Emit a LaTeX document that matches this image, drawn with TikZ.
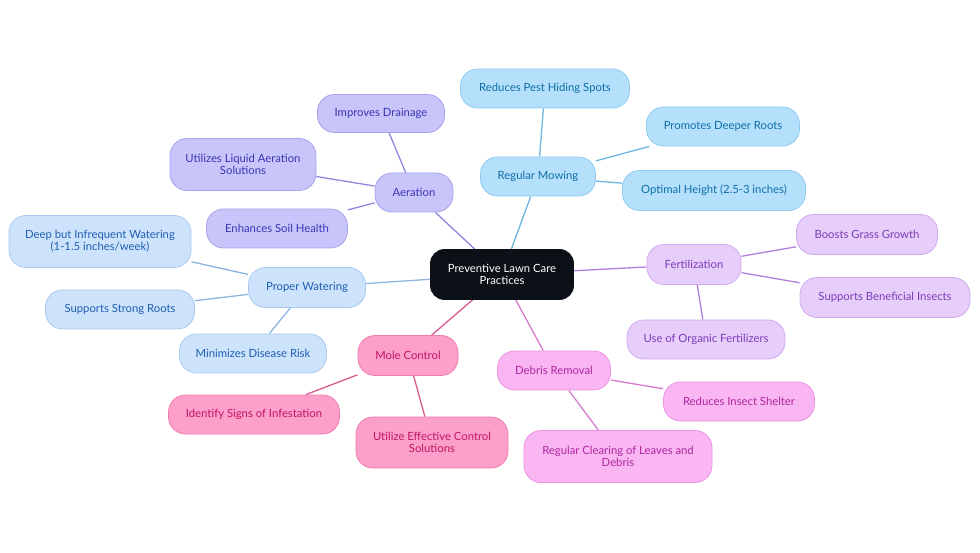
\documentclass[tikz,border=0pt]{standalone}
\usepackage{fontspec}
\setmainfont{Lato}
\usetikzlibrary{backgrounds}
\definecolor{cfill}{HTML}{0C1017}
\definecolor{aefill}{HTML}{C7C5F9}\definecolor{aedraw}{HTML}{A8A3EC}\definecolor{aetext}{HTML}{3C35B4}\definecolor{aeline}{HTML}{8E86DC}
\definecolor{mofill}{HTML}{B5E0FB}\definecolor{modraw}{HTML}{8ECBF1}\definecolor{motext}{HTML}{0E6FA6}\definecolor{moline}{HTML}{6DB6E1}
\definecolor{wafill}{HTML}{CDE3FB}\definecolor{wadraw}{HTML}{A9CBF0}\definecolor{watext}{HTML}{1E5EB3}\definecolor{waline}{HTML}{8DB4E0}
\definecolor{fefill}{HTML}{E7CDFA}\definecolor{fedraw}{HTML}{D0AAF0}\definecolor{fetext}{HTML}{7A3DB8}\definecolor{feline}{HTML}{B27DDC}
\definecolor{mlfill}{HTML}{FC9FC9}\definecolor{mldraw}{HTML}{F07DAF}\definecolor{mltext}{HTML}{BF1566}\definecolor{mlline}{HTML}{D95A90}
\definecolor{defill}{HTML}{F9B6F3}\definecolor{dedraw}{HTML}{EC92E2}\definecolor{detext}{HTML}{AE269E}\definecolor{deline}{HTML}{D87ACC}
\tikzset{
  box/.style={rounded corners=17pt, draw, line width=0.8pt, align=center, inner sep=2pt,
    font=\fontsize{11.3}{12}\selectfont},
  aebox/.style={box, fill=aefill, draw=aedraw, text=aetext},
  mobox/.style={box, fill=mofill, draw=modraw, text=motext},
  wabox/.style={box, fill=wafill, draw=wadraw, text=watext},
  febox/.style={box, fill=fefill, draw=fedraw, text=fetext},
  mlbox/.style={box, fill=mlfill, draw=mldraw, text=mltext},
  debox/.style={box, fill=defill, draw=dedraw, text=detext},
  link/.style={line width=1.3pt},
}
\begin{document}
\begin{tikzpicture}[x=1pt,y=-1pt]
\useasboundingbox (0,0) rectangle (980,553);
\node[box, fill=cfill, draw=cfill, text=white, minimum width=143pt, minimum height=50pt, rounded corners=14pt] (c) at (502,274.5) {Preventive Lawn Care\\Practices};
% Aeration
\node[aebox, minimum width=78pt, minimum height=39pt] (ae) at (414,192.5) {Aeration};
\node[aebox, minimum width=127pt, minimum height=38pt] (ae1) at (381,113.5) {Improves Drainage};
\node[aebox, minimum width=146pt, minimum height=52pt] (ae2) at (243,164.5) {Utilizes Liquid Aeration\\Solutions};
\node[aebox, minimum width=141pt, minimum height=39pt] (ae3) at (277,228.5) {Enhances Soil Health};
% Mowing
\node[mobox, minimum width=115pt, minimum height=39pt] (mo) at (538,176.5) {Regular Mowing};
\node[mobox, minimum width=169pt, minimum height=39pt] (mo1) at (545,88.5) {Reduces Pest Hiding Spots};
\node[mobox, minimum width=153pt, minimum height=39pt] (mo2) at (723,126.5) {Promotes Deeper Roots};
\node[mobox, minimum width=183pt, minimum height=40pt] (mo3) at (714,190.5) {Optimal Height (2.5-3 inches)};
% Fertilization
\node[febox, minimum width=94pt, minimum height=40pt] (fe) at (694,264.5) {Fertilization};
\node[febox, minimum width=141pt, minimum height=40pt] (fe1) at (867,234.5) {Boosts Grass Growth};
\node[febox, minimum width=170pt, minimum height=40pt] (fe2) at (885,297.5) {Supports Beneficial Insects};
\node[febox, minimum width=158pt, minimum height=39pt] (fe3) at (706,339.5) {Use of Organic Fertilizers};
% Watering
\node[wabox, minimum width=117pt, minimum height=40pt] (wa) at (307,287.5) {Proper Watering};
\node[wabox, minimum width=182pt, minimum height=52pt] (wa1) at (100,241.5) {Deep but Infrequent Watering\\(1-1.5 inches/week)};
\node[wabox, minimum width=149pt, minimum height=39pt] (wa2) at (120,309.5) {Supports Strong Roots};
\node[wabox, minimum width=147pt, minimum height=39pt] (wa3) at (253,353.5) {Minimizes Disease Risk};
% Mole
\node[mlbox, minimum width=100pt, minimum height=40pt] (ml) at (408,355.5) {Mole Control};
\node[mlbox, minimum width=171pt, minimum height=39pt] (ml1) at (254,414.5) {Identify Signs of Infestation};
\node[mlbox, minimum width=152pt, minimum height=51pt] (ml2) at (432,442.5) {Utilize Effective Control\\Solutions};
% Debris
\node[debox, minimum width=113pt, minimum height=39pt] (de) at (554,370.5) {Debris Removal};
\node[debox, minimum width=151pt, minimum height=39pt] (de1) at (739,401.5) {Reduces Insect Shelter};
\node[debox, minimum width=188pt, minimum height=52pt] (de2) at (618,456.5) {Regular Clearing of Leaves and\\Debris};
\begin{scope}[on background layer]
\draw[link, aeline] (c) -- (ae) (ae) -- (ae1) (ae) -- (ae2) (ae) -- (ae3);
\draw[link, moline] (c) -- (mo) (mo) -- (mo1) (mo) -- (mo2) (mo) -- (mo3);
\draw[link, feline] (c) -- (fe) (fe) -- (fe1) (fe) -- (fe2) (fe) -- (fe3);
\draw[link, waline] (c) -- (wa) (wa) -- (wa1) (wa) -- (wa2) (wa) -- (wa3);
\draw[link, mlline] (c) -- (ml) (ml) -- (ml1) (ml) -- (ml2);
\draw[link, deline] (c) -- (de) (de) -- (de1) (de) -- (de2);
\end{scope}
\end{tikzpicture}
\end{document}
